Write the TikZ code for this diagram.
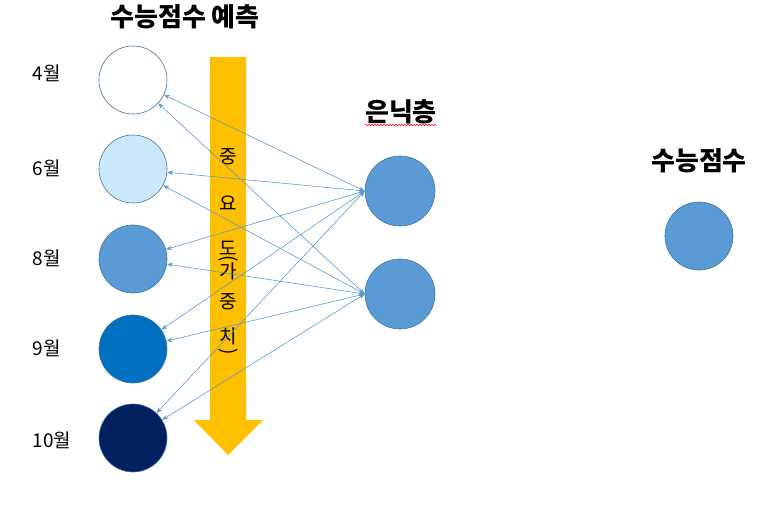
\documentclass[tikz,border=0pt]{standalone}
\usepackage{fontspec}
\setmainfont{Noto Sans CJK KR}
\usetikzlibrary{arrows.meta,decorations.pathmorphing}
\definecolor{edgeblue}{HTML}{41719C}
\definecolor{midblue}{HTML}{5B9BD5}
\definecolor{lightblue}{HTML}{CCE9FC}
\definecolor{strongblue}{HTML}{0070C0}
\definecolor{navy}{HTML}{002060}
\definecolor{gold}{HTML}{FFC000}
\begin{document}
\begin{tikzpicture}[x=1pt,y=-1pt,
  neuron/.style={circle,draw=edgeblue,line width=0.6pt,minimum size=68pt,inner sep=0pt},
  conn/.style={draw=midblue,line width=0.6pt,{Stealth[length=6pt,width=4.5pt]}-{Stealth[length=6pt,width=4.5pt]}},
  month/.style={font=\fontsize{19}{22}\selectfont,anchor=center},
  heading/.style={font=\fontsize{26}{30}\selectfont\bfseries},
  vchar/.style={font=\fontsize{19}{22}\selectfont,inner sep=0pt}]
\useasboundingbox (0,0) rectangle (770,509);
% importance arrow
\fill[gold] (210,57) -- (246,57) -- (246,420) -- (263,420) -- (228,455) -- (194,420) -- (210,420) -- cycle;
% input neurons
\node[neuron,fill=white] (n4) at (133,80) {};
\node[neuron,fill=lightblue] (n6) at (133,169) {};
\node[neuron,fill=midblue] (n8) at (133,259) {};
\node[neuron,fill=strongblue] (n9) at (133,349) {};
\node[neuron,fill=navy] (n10) at (133,438) {};
% hidden
\node[neuron,fill=midblue,minimum size=70pt] (h1) at (400,191) {};
\node[neuron,fill=midblue,minimum size=70pt] (h2) at (400,294) {};
% output
\node[neuron,fill=midblue] (out) at (699,236) {};
% labels
\node[month] (l4) at (47,73) {4월};
\node[month] (l6) at (47,168) {6월};
\node[month] (l8) at (47,258) {8월};
\node[month] (l9) at (47,348) {9월};
\node[month] (l10) at (52,440) {10월};
\node[heading] (title) at (185,17) {수능점수 예측};
\node[heading] (hid) at (401,112) {은닉층};
\node[heading] (outl) at (699,161) {수능점수};
\draw[red,line width=0.5pt,decorate,decoration={snake,amplitude=0.8pt,segment length=3pt}] (365,125) -- (437,125);
% vertical text
\node[vchar] (c1) at (228,157) {중};
\node[vchar] (c2) at (228,203) {요};
\node[vchar] (c3) at (228,248) {도};
\node[vchar,rotate=-90] (c4) at (228,259) {(};
\node[vchar] (c5) at (228,271) {가};
\node[vchar] (c6) at (228,302) {중};
\node[vchar] (c7) at (228,336) {치};
\node[vchar,rotate=-90] (c8) at (228,352) {)};
% connections
\foreach \i in {n4,n6,n8,n9,n10}{
  \draw[conn] (\i) -- (h1.west);
  \draw[conn] (\i) -- (h2.west);
}
\end{tikzpicture}
\end{document}
